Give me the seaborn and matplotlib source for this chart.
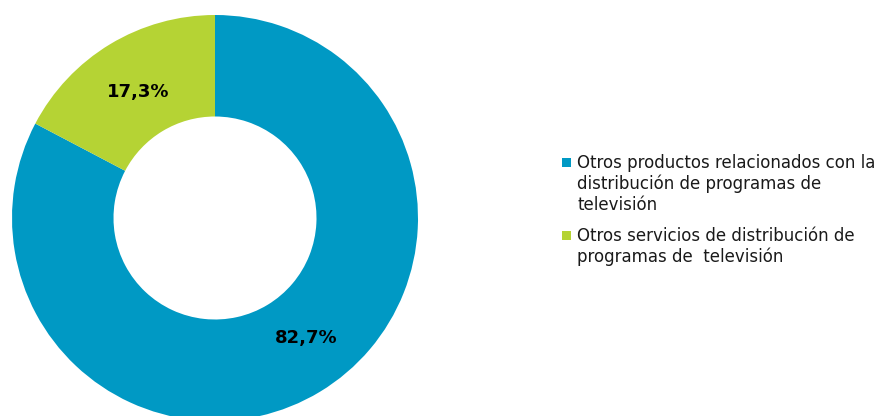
import numpy as np
import pandas as pd
import matplotlib.pyplot as plt
import seaborn as sns
from matplotlib.patches import Rectangle

# Datos
categorias = ["Otros productos relacionados con la\ndistribución de programas de\ntelevisión",
              "Otros servicios de distribución de\nprogramas de  televisión"]
valores = [82.7, 17.3]
etiquetas = ["82,7%", "17,3%"]
colores = ["#0099c4", "#b5d334"]

sns.set_style("white")
plt.rcParams['font.family'] = ['DejaVu Sans']

W, H = 881, 416
fig = plt.figure(figsize=(W / 100, H / 100), dpi=100)
ax = fig.add_axes([12 / W, -5 / H, 406 / W, 406 / H])

wedges, _ = ax.pie(valores, colors=colores, startangle=90, counterclock=False,
                   radius=1, wedgeprops=dict(width=0.5, linewidth=0))
ax.set_xlim(-1, 1)
ax.set_ylim(-1, 1)
ax.set_aspect('equal')
ax.axis('off')

# Etiquetas de porcentaje
pos_etiquetas = [(0.448, -0.591), (-0.379, 0.621)]
for txt, (x, y) in zip(etiquetas, pos_etiquetas):
    ax.text(x, y, txt, ha='center', va='center', fontsize=13, fontweight='bold', color='black')

# Leyenda (a mano, para que el cuadrado quede en la primera línea)
leyenda_y = [158, 231]   # parte superior del cuadrado de cada entrada, px desde arriba
for cat, col, yt in zip(categorias, colores, leyenda_y):
    fig.patches.append(Rectangle((562 / W, 1 - (yt + 9) / H), 9 / W, 9 / H,
                                 transform=fig.transFigure, facecolor=col, edgecolor='none'))
    fig.text(577 / W, 1 - (yt - 4) / H, cat, ha='left', va='top', fontsize=12,
             color='#1a1a1a', linespacing=1.2)

fig.savefig("out.png", dpi=100)
